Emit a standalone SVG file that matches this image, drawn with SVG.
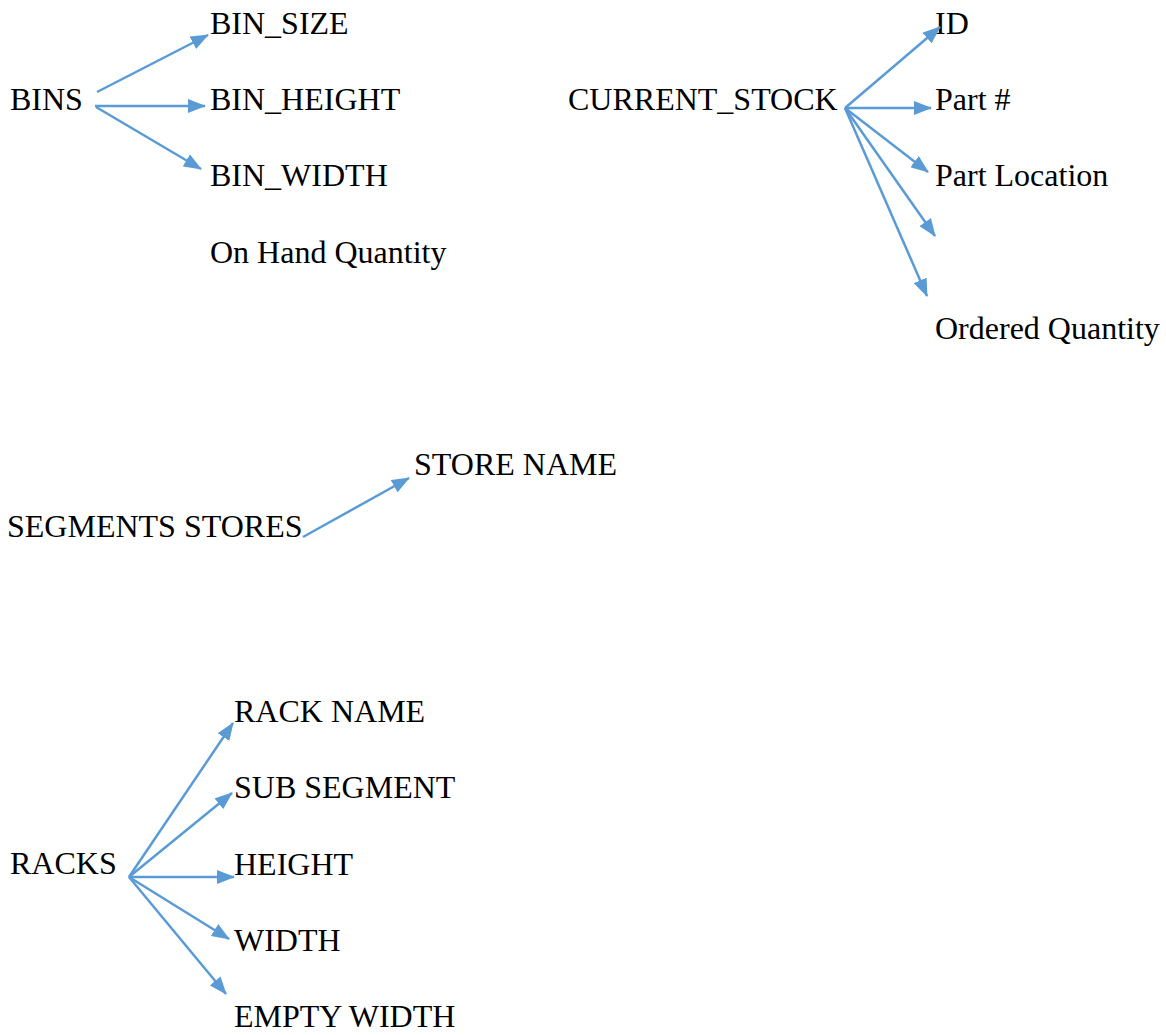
<svg xmlns="http://www.w3.org/2000/svg" width="1166" height="1035" viewBox="0 0 1166 1035">
  <defs>
    <style>
      .lbl { font-family: "Liberation Serif", "Times New Roman", serif; font-size: 32px; fill: #000; }
      .edge { stroke: #5B9BD5; stroke-width: 2.5; fill: none; marker-end: url(#arrow); }
    </style>
    <marker id="arrow" markerUnits="userSpaceOnUse" markerWidth="18" markerHeight="14" refX="17" refY="7" orient="auto">
      <path d="M0,0 L18,7 L0,14 z" fill="#5B9BD5"/>
    </marker>
  </defs>
  <rect width="1166" height="1035" fill="#fff"/>

  <!-- BINS entity -->
  <g id="bins"><text class="lbl" x="10" y="110">BINS</text></g>
  <g id="bin-size"><text class="lbl" x="210" y="34">BIN_SIZE</text></g>
  <g id="bin-height"><text class="lbl" x="210" y="110">BIN_HEIGHT</text></g>
  <g id="bin-width"><text class="lbl" x="210" y="186">BIN_WIDTH</text></g>
  <g id="on-hand-quantity"><text class="lbl" x="210" y="263">On Hand Quantity</text></g>

  <!-- CURRENT_STOCK entity -->
  <g id="current-stock"><text class="lbl" x="568" y="110">CURRENT_STOCK</text></g>
  <g id="id"><text class="lbl" x="935" y="34">ID</text></g>
  <g id="part-no"><text class="lbl" x="935" y="110">Part #</text></g>
  <g id="part-location"><text class="lbl" x="935" y="186">Part Location</text></g>
  <g id="ordered-quantity"><text class="lbl" x="935" y="339">Ordered Quantity</text></g>

  <!-- SEGMENTS STORES entity -->
  <g id="segments-stores"><text class="lbl" x="7" y="537">SEGMENTS STORES</text></g>
  <g id="store-name"><text class="lbl" x="414" y="475">STORE NAME</text></g>

  <!-- RACKS entity -->
  <g id="racks"><text class="lbl" x="10" y="874">RACKS</text></g>
  <g id="rack-name"><text class="lbl" x="234" y="722">RACK NAME</text></g>
  <g id="sub-segment"><text class="lbl" x="234" y="798">SUB SEGMENT</text></g>
  <g id="height"><text class="lbl" x="234" y="875">HEIGHT</text></g>
  <g id="width"><text class="lbl" x="234" y="951">WIDTH</text></g>
  <g id="empty-width"><text class="lbl" x="234" y="1027">EMPTY WIDTH</text></g>

  <!-- connectors -->
  <g id="connectors">
    <line class="edge" x1="97" y1="92" x2="208" y2="35"/>
    <line class="edge" x1="95" y1="106" x2="205" y2="106"/>
    <line class="edge" x1="96" y1="107" x2="201" y2="169"/>

    <line class="edge" x1="845" y1="108" x2="940" y2="27"/>
    <line class="edge" x1="845" y1="108" x2="931" y2="108"/>
    <line class="edge" x1="845" y1="108" x2="928" y2="172"/>
    <line class="edge" x1="845" y1="108" x2="935" y2="236"/>
    <line class="edge" x1="845" y1="108" x2="927" y2="296"/>

    <line class="edge" x1="303" y1="537" x2="409" y2="478"/>

    <line class="edge" x1="129" y1="877" x2="233" y2="723"/>
    <line class="edge" x1="129" y1="877" x2="232" y2="793"/>
    <line class="edge" x1="129" y1="877" x2="234" y2="877"/>
    <line class="edge" x1="129" y1="877" x2="229" y2="939"/>
    <line class="edge" x1="129" y1="877" x2="226" y2="994"/>
  </g>
</svg>
